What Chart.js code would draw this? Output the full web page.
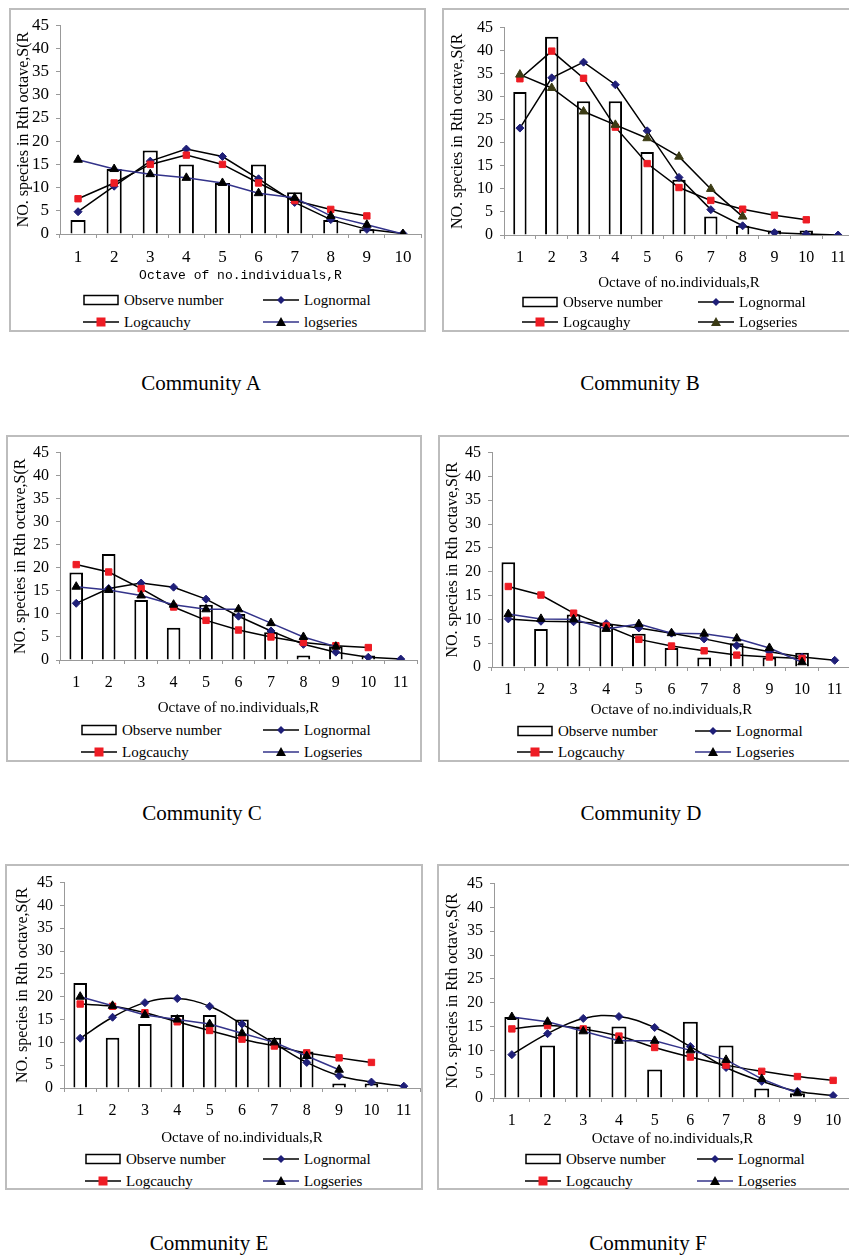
<!DOCTYPE html>
<html><head><meta charset="utf-8">
<script src="https://cdn.jsdelivr.net/npm/chart.js@4.4.1/dist/chart.umd.min.js"></script>
<style>
html,body{margin:0;padding:0;}
body{width:849px;height:1255px;overflow:hidden;background:#fff;position:relative;font-family:"Liberation Serif","Times New Roman",serif;color:#000;}
.box{position:absolute;border:2px solid #bdbdbd;box-sizing:border-box;}
.cv{position:absolute;}
.lg{position:absolute;font-size:15px;line-height:18px;white-space:nowrap;display:flex;align-items:center;}
.lg svg{margin-right:5px;}
.cap{position:absolute;font-size:21px;white-space:nowrap;transform:translate(-50%,-50%);}
</style>
</head><body>
<script>
// ---------- DATA ----------
const octaves10 = ['1','2','3','4','5','6','7','8','9','10'];
const octaves11 = ['1','2','3','4','5','6','7','8','9','10','11'];
const yTicks = [0,5,10,15,20,25,30,35,40,45];

const observedA  = [3,14,18,15,11,15,9,3,1,null];
const lognormalA = [4.8,10.3,15.7,18.3,16.7,11.9,6.8,3.1,1.0,0.1];
const logcauchyA = [7.6,11,15,17,15,11,7.2,5.3,3.9,null];
const logseriesA = [16,14,12.9,12.1,11,8.8,7.8,3.9,2.0,0];

const observedB  = [31,43,29,29,18,12,4,2,1,1,null];
const lognormalB = [23.2,34.1,37.5,32.6,22.6,12.5,5.5,2.0,0.5,0.2,0];
const logcaughyB = [33.9,39.9,34,23.4,15.5,10.3,7.5,5.6,4.3,3.3,null];
const logseriesB = [34.8,31.9,26.8,23.9,21,17,10,4,null,null,null];

const observedC  = [19,23,13,7,12,10,6,1,3,1,null];
const lognormalC = [12.3,15.5,16.7,15.8,13.2,9.5,6.3,3.4,1.7,0.6,0.2];
const logcauchyC = [20.7,19.1,15.5,11.5,8.6,6.5,5,3.8,3.1,2.7,null];
const logseriesC = [15.9,15.2,14,12,11,11,8,5,2.9,null,null];

const observedD  = [22,8,11,9,7,4,2,5,2,3,null];
const lognormalD = [10.1,9.6,9.5,9.1,8.2,7.1,5.9,4.5,3.2,2.1,1.4];
const logcauchyD = [16.9,15.1,11.3,8.6,5.8,4.4,3.4,2.5,2.1,1.8,null];
const logseriesD = [11.1,10.1,10,8,9,7.1,7,6,4,1,null];

const observedE  = [23,11,14,16,16,15,11,8,1,1,null];
const lognormalE = [10.9,15.5,18.7,19.6,17.9,14,9.8,5.6,2.7,1.3,0.4];
const logcauchyE = [18.4,17.9,16.5,14.5,12.6,10.7,9.2,7.7,6.6,5.6,null];
const logseriesE = [20,18,16,15,14,12,10,7,4,null,null];

const observedF  = [17,11,15,15,6,16,11,2,1,null];
const lognormalF = [9.1,13.5,16.7,17.1,14.8,10.8,6.4,3.5,1.4,0.5];
const logcauchyF = [14.5,15.2,14.5,13,10.6,8.6,6.9,5.6,4.5,3.7];
const logseriesF = [17,16,14,12,12,10,8,4,1,null];

const yTitle = 'NO. species in Rth octave,S(R';
const xTitle = 'Octave of no.individuals,R';

// ---------- PANELS ----------
const NAVY = '#1f1f78', RED = '#ee1c24', NAVYLINE = '#33338a';
const panels = [
 {cap:'Community A', labels:octaves10, obs:observedA, ln:lognormalA, lc:logcauchyA, ls:logseriesA,
  names:['Observe number','Lognormal','Logcauchy','logseries'], lsLine:NAVYLINE, lsPt:'#000', tension:0,
  xTitleFont:{family:'"Liberation Mono",monospace', size:13}, tickSize:17,
  box:[9,8,417,324], cx:10, cy:8, L:60, R:425, B:234, xH:51,
  lg:{c1:83,c2:263,r1:300,r2:322}, capPos:[201,383]},
 {cap:'Community B', labels:octaves11, obs:observedB, ln:lognormalB, lc:logcaughyB, ls:logseriesB,
  names:['Observe number','Lognormal','Logcaughy','Logseries'], lsLine:'#000', lsPt:'#3b3b14', tension:0,
  box:[442,8,420,324], cx:444, cy:11, L:504, R:858, B:235, xH:59,
  lg:{c1:522,c2:698,r1:302,r2:322}, capPos:[640,383]},
 {cap:'Community C', labels:octaves11, obs:observedC, ln:lognormalC, lc:logcauchyC, ls:logseriesC,
  names:['Observe number','Lognormal','Logcauchy','Logseries'], lsLine:NAVYLINE, lsPt:'#000', tension:0,
  box:[6,435,416,327], cx:7, cy:436, L:60, R:421, B:660, xH:59,
  lg:{c1:81,c2:263,r1:730,r2:752}, capPos:[202,813]},
 {cap:'Community D', labels:octaves11, obs:observedD, ln:lognormalD, lc:logcauchyD, ls:logseriesD,
  names:['Observe number','Lognormal','Logcauchy','Logseries'], lsLine:NAVYLINE, lsPt:'#000', tension:0,
  box:[438,435,420,327], cx:439, cy:436, L:492, R:855, B:667, xH:54,
  lg:{c1:517,c2:695,r1:731,r2:752}, capPos:[641,813]},
 {cap:'Community E', labels:octaves11, obs:observedE, ln:lognormalE, lc:logcauchyE, ls:logseriesE,
  names:['Observe number','Lognormal','Logcauchy','Logseries'], lsLine:NAVYLINE, lsPt:'#000', tension:0.4,
  box:[5,864,418,326], cx:9, cy:866, L:64, R:424, B:1088, xH:61,
  lg:{c1:85,c2:263,r1:1159,r2:1181}, capPos:[209,1243]},
 {cap:'Community F', labels:octaves10, obs:observedF, ln:lognormalF, lc:logcauchyF, ls:logseriesF,
  names:['Observe number','Lognormal','Logcauchy','Logseries'], lsLine:NAVYLINE, lsPt:'#000', tension:0.4,
  box:[437,864,420,326], cx:439, cy:867, L:494, R:855, B:1098, xH:52,
  lg:{c1:525,c2:697,r1:1159,r2:1181}, capPos:[648,1243]}
];

function svgRect(){
  return '<svg width="36" height="14"><rect x="1" y="2.5" width="34" height="9" fill="#fff" stroke="#000" stroke-width="1.5"/></svg>';
}
function svgLine(lineCol, shape, ptCol){
  let m='';
  if(shape==='diamond') m='<polygon points="18,3 22,7 18,11 14,7" fill="'+ptCol+'"/>';
  if(shape==='square') m='<rect x="13.5" y="2.5" width="9" height="9" fill="'+ptCol+'"/>';
  if(shape==='tri') m='<polygon points="18,2 23,11 13,11" fill="'+ptCol+'"/>';
  return '<svg width="36" height="14"><line x1="0" y1="7" x2="36" y2="7" stroke="'+lineCol+'" stroke-width="1.5"/>'+m+'</svg>';
}
function addDiv(cls, x, y, html){
  const d=document.createElement('div'); d.className=cls;
  d.style.left=x+'px'; d.style.top=y+'px'; d.innerHTML=html;
  document.body.appendChild(d); return d;
}

panels.forEach(p=>{
  const b=document.createElement('div'); b.className='box';
  b.style.left=p.box[0]+'px'; b.style.top=p.box[1]+'px';
  b.style.width=p.box[2]+'px'; b.style.height=p.box[3]+'px';
  document.body.appendChild(b);

  const padTop=12, padRight=2;
  const yW = p.L - p.cx;
  const w = p.R + padRight - p.cx;
  const h = p.B + p.xH - p.cy;
  const cv=document.createElement('canvas'); cv.className='cv';
  cv.width=w; cv.height=h; cv.style.left=p.cx+'px'; cv.style.top=p.cy+'px';
  cv.style.width=w+'px'; cv.style.height=h+'px';
  document.body.appendChild(cv);

  const tickFont={family:'"Liberation Serif",serif', size:p.tickSize||16};
  new Chart(cv.getContext('2d'),{
    type:'bar',
    data:{labels:p.labels, datasets:[
      {type:'line', label:p.names[1], data:p.ln, borderColor:'#000', borderWidth:1.5, tension:p.tension,
       pointStyle:'rectRot', pointRadius:4, pointBackgroundColor:NAVY, pointBorderColor:NAVY, pointBorderWidth:1, order:2},
      {type:'line', label:p.names[2], data:p.lc, borderColor:'#000', borderWidth:1.5, tension:p.tension,
       pointStyle:'rect', pointRadius:4.5, pointBackgroundColor:RED, pointBorderColor:RED, pointBorderWidth:1, order:1},
      {type:'line', label:p.names[3], data:p.ls, borderColor:p.lsLine, borderWidth:1.5, tension:0,
       pointStyle:'triangle', pointRadius:5, pointBackgroundColor:p.lsPt, pointBorderColor:p.lsPt, pointBorderWidth:1, order:0},
      {type:'bar', label:p.names[0], data:p.obs, backgroundColor:'#fff', borderColor:'#000', borderWidth:2,
       categoryPercentage:0.42, barPercentage:1, order:10}
    ]},
    options:{
      responsive:false, animation:false, events:[],
      layout:{padding:{top:padTop,right:padRight,left:0,bottom:0}},
      plugins:{legend:{display:false}, tooltip:{enabled:false}},
      scales:{
        x:{offset:true,
           grid:{offset:true, drawOnChartArea:false, tickLength:4, color:'#999'},
           border:{color:'#999', width:1},
           ticks:{font:tickFont, color:'#000', padding:9, maxRotation:0, autoSkip:false},
           title:{display:true, text:xTitle, color:'#000', font:p.xTitleFont||{family:'"Liberation Serif",serif', size:15}, padding:{top:0,bottom:2}},
           afterFit:s=>{s.height=p.xH;}},
        y:{min:0, max:45,
           afterBuildTicks:s=>{s.ticks=yTicks.map(v=>({value:v}));},
           grid:{drawOnChartArea:false, tickLength:4, color:'#999'},
           border:{color:'#999', width:1},
           ticks:{font:tickFont, color:'#000', padding:7, autoSkip:false},
           title:{display:true, text:yTitle, color:'#000', font:{family:'"Liberation Serif",serif', size:16}, padding:{top:4,bottom:0}},
           afterFit:s=>{s.width=yW;}}
      }
    }
  });

  const g=p.lg;
  addDiv('lg', g.c1, g.r1-9, svgRect()+'<span>'+p.names[0]+'</span>');
  addDiv('lg', g.c2, g.r1-9, svgLine('#000','diamond',NAVY)+'<span>'+p.names[1]+'</span>');
  addDiv('lg', g.c1, g.r2-9, svgLine('#000','square',RED)+'<span>'+p.names[2]+'</span>');
  addDiv('lg', g.c2, g.r2-9, svgLine(p.lsLine,'tri',p.lsPt)+'<span>'+p.names[3]+'</span>');
  addDiv('cap', p.capPos[0], p.capPos[1], p.cap);
});
</script>
</body></html>
